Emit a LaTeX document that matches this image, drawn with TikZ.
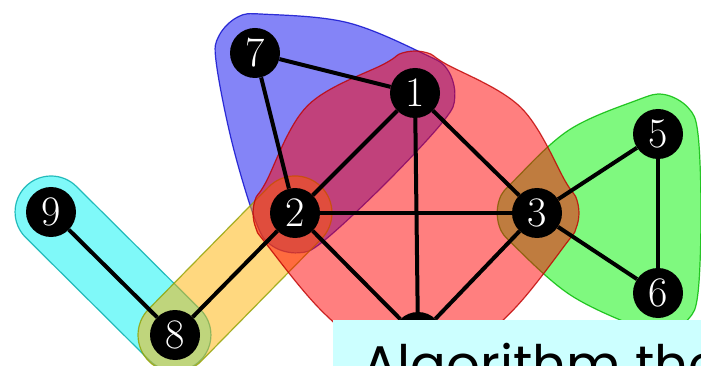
\documentclass[tikz,border=0pt]{standalone}
\usepackage{fontspec}
\newfontfamily\capfont{Poppins}
\definecolor{hcyan}{RGB}{0,245,245}
\definecolor{hblue}{RGB}{10,10,240}
\definecolor{hyellow}{RGB}{255,178,0}
\definecolor{hgreen}{RGB}{0,245,0}
\definecolor{hred}{RGB}{255,0,0}
\definecolor{capcol}{RGB}{204,255,255}
\begin{document}
\begin{tikzpicture}[x=1pt,y=-1pt,
  vtx/.style={circle, fill=black, minimum size=50pt, inner sep=0pt, text=white,
    font=\fontsize{42}{42}\selectfont},
  link/.style={line width=4pt, draw=black},
  hyper/.style={fill opacity=0.5, draw opacity=0.8, line width=1.2pt}]
\useasboundingbox (0,0) rectangle (701,366);
\clip (0,0) rectangle (701,366);
\fill[white] (0,0) rectangle (701,366);

% hyperedges
\begin{scope}[shift={(113,273.5)}, rotate=-44.8, y=1pt]
  \draw[hyper, fill=hcyan, draw=hcyan!70!black]
    (-87.3,-36) -- (87.3,-36) arc[start angle=-90, end angle=90, radius=36]
    -- (-87.3,36) arc[start angle=90, end angle=270, radius=36] -- cycle;
\end{scope}
\draw[hyper, fill=hblue, draw=hblue!85!black] plot[smooth cycle, tension=0.6] coordinates {
  (216.2,62.7) (218.8,36.1) (238.1,16.8) (264.7,14.2) (347.6,22.6) (424.7,54.2)
  (447.4,69.5) (454.8,96.5) (443.3,121.3) (385.5,183.5) (323.3,241.3) (298.5,252.8)
  (272.1,245.8) (256.2,222.7) (232.3,143.7)};
\begin{scope}[shift={(235,274)}, rotate=45.5, y=1pt]
  \draw[hyper, fill=hyellow, draw=hyellow!70!green!80!black]
    (-85.6,-37) -- (85.6,-37) arc[start angle=-90, end angle=90, radius=37]
    -- (-85.6,37) arc[start angle=90, end angle=270, radius=37] -- cycle;
\end{scope}
\draw[hyper, fill=hgreen, draw=hgreen!75!black] plot[smooth cycle, tension=0.6] coordinates {
  (514.9,246.4) (499.2,226) (499.2,200) (515.1,179.5) (569,130) (636.1,100.5)
  (663.6,94.4) (688.2,107.8) (698,134) (701,213) (698,293) (688.2,319.2)
  (663.6,332.6) (635.9,326.4) (569.9,294.7)};
\draw[hyper, fill=hred, draw=hred!75!black] plot[smooth cycle, tension=0.6] coordinates {
  (385.3,63.3) (398.9,54.2) (415,51) (430.9,54.1) (444.4,63.1) (520.8,107.4)
  (566.4,183.1) (575.7,196.6) (579,213) (575.9,228.7) (567.3,242.1) (513.6,309.6)
  (448.3,366.1) (418,379) (388.2,366.6) (321,310.2)
  (265.2,242.6) (256.2,229) (253,213) (256.2,196.9) (265.3,183.3) (307.6,105.6)};

% vertices
\node[vtx] (n7) at (255,53) {7};
\node[vtx] (n1) at (415,93) {1};
\node[vtx] (n2) at (295,213) {2};
\node[vtx] (n3) at (537,213) {3};
\node[vtx] (n5) at (658,134) {5};
\node[vtx] (n6) at (658,293) {6};
\node[vtx] (n9) at (51,212) {9};
\node[vtx] (n8) at (175,335) {8};
\node[vtx] (n4) at (418,337) {4};

% edges
\draw[link] (n7) -- (n1);
\draw[link] (n7) -- (n2);
\draw[link] (n1) -- (n2);
\draw[link] (n1) -- (n3);
\draw[link] (n1) -- (n4);
\draw[link] (n2) -- (n3);
\draw[link] (n2) -- (n4);
\draw[link] (n2) -- (n8);
\draw[link] (n3) -- (n4);
\draw[link] (n3) -- (n5);
\draw[link] (n3) -- (n6);
\draw[link] (n5) -- (n6);
\draw[link] (n9) -- (n8);

% caption overlay
\fill[capcol] (333,320) rectangle (701,366);
\node[anchor=base west, inner sep=0pt, font=\capfont\fontsize{53}{53}\selectfont] (cap) at (362,383) {Algorithm the};
\end{tikzpicture}
\end{document}
